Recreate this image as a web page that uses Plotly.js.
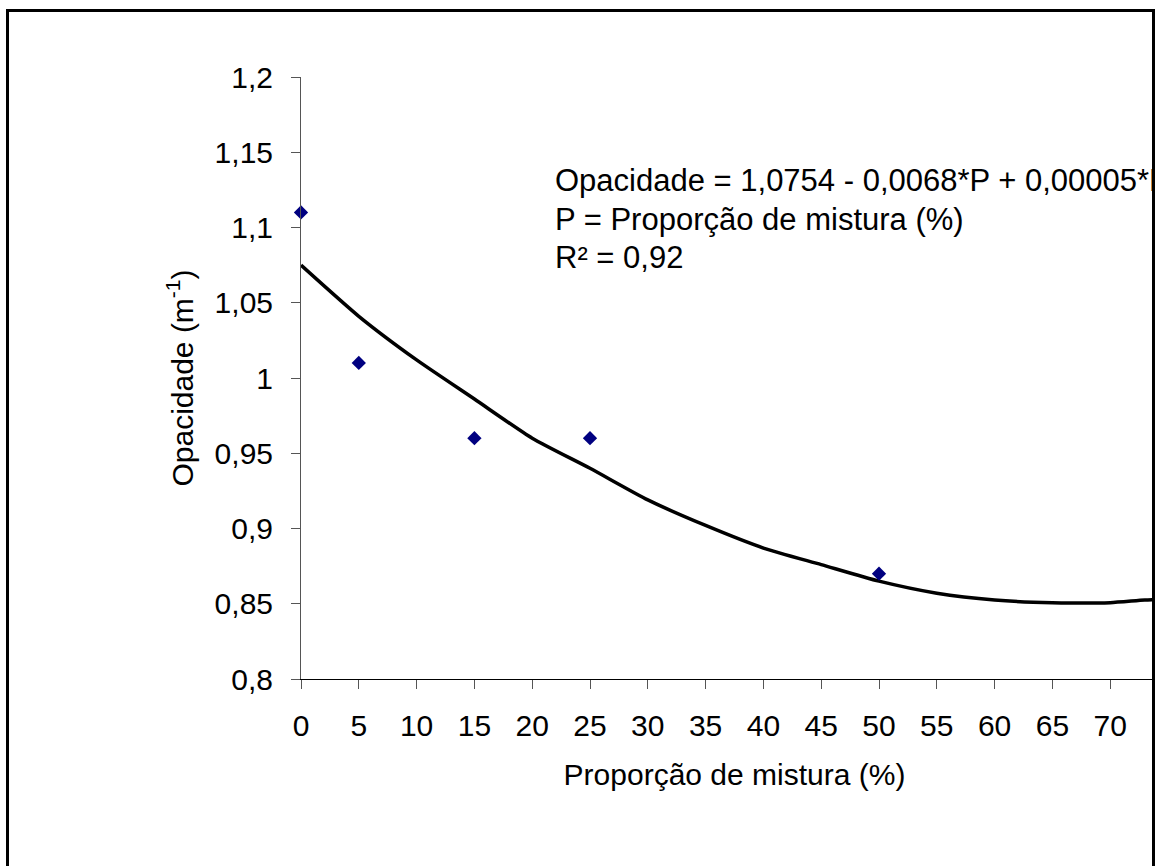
<!DOCTYPE html>
<html>
<head>
<meta charset="utf-8">
<script src="https://cdn.plot.ly/plotly-3.0.1.min.js"></script>
<style>
  html, body { margin: 0; padding: 0; background: #fff; overflow: hidden; }
  #frame { position: absolute; left: 6px; top: 9px; width: 1143px; height: 900px;
           border: 3px solid #000; overflow: hidden; background: #fff; }
  #chart { position: absolute; left: 0; top: 0; width: 1400px; height: 870px; }
</style>
</head>
<body>
<div id="frame"><div id="chart"></div></div>
<script>
// Observed data
const proporcao = [0, 5, 15, 25, 50];
const opacidade = [1.11, 1.01, 0.96, 0.96, 0.87];

// Trend curve
const curveP = [0, 5, 10, 15, 20, 25, 30, 35, 40, 45, 50, 55, 60, 65, 70, 73, 75];
const curveY = [1.075, 1.041, 1.012, 0.986, 0.960, 0.940, 0.919, 0.902, 0.887, 0.876, 0.865, 0.857, 0.8525, 0.8507, 0.8507, 0.8525, 0.853];

// Tick labels
const yTickVals = [0.8, 0.85, 0.9, 0.95, 1.0, 1.05, 1.1, 1.15, 1.2];
const yTickText = ["0,8", "0,85", "0,9", "0,95", "1", "1,05", "1,1", "1,15", "1,2"];
const xTickVals = [0, 5, 10, 15, 20, 25, 30, 35, 40, 45, 50, 55, 60, 65, 70, 75];
const xTickText = ["0", "5", "10", "15", "20", "25", "30", "35", "40", "45", "50", "55", "60", "65", "70", "75"];

// Equation text lines
const eqLines = [
  "Opacidade = 1,0754 - 0,0068*P + 0,00005*P²",
  "P = Proporção de mistura (%)",
  "R² = 0,92"
];
const eqY = [1.131, 1.1055, 1.080];

const FONT = "Liberation Sans, Arial, Helvetica, sans-serif";

const traces = [
  {
    x: curveP, y: curveY, type: "scatter", mode: "lines",
    line: { color: "#000", width: 3.5, shape: "spline", smoothing: 0.6 },
    hoverinfo: "skip", showlegend: false
  },
  {
    x: proporcao, y: opacidade, type: "scatter", mode: "markers",
    marker: { symbol: "diamond", size: 11, color: "#000080" },
    showlegend: false, cliponaxis: false
  }
];

const layout = {
  width: 1400, height: 870,
  margin: { l: 292, r: 241.2, t: 65, b: 203 },
  paper_bgcolor: "#fff", plot_bgcolor: "#fff",
  font: { family: FONT, size: 30, color: "#000" },
  showlegend: false,
  xaxis: {
    range: [0, 75], tickvals: xTickVals, ticktext: xTickText,
    showgrid: false, zeroline: false,
    showline: true, linecolor: "#000", linewidth: 1,
    ticks: "outside", ticklen: 9, tickcolor: "#555", tickwidth: 1,
    tickfont: { family: FONT, size: 30, color: "#000" },
    ticklabelstandoff: 11,
    title: { text: "Proporção de mistura (%)", font: { family: FONT, size: 30, color: "#000" }, standoff: 22 },
    automargin: false, fixedrange: true
  },
  yaxis: {
    range: [0.8, 1.2], tickvals: yTickVals, ticktext: yTickText,
    showgrid: false, zeroline: false,
    showline: true, linecolor: "#555", linewidth: 1,
    ticks: "outside", ticklen: 9, tickcolor: "#555", tickwidth: 1,
    tickfont: { family: FONT, size: 30, color: "#000" },
    ticklabelstandoff: 12,
    title: { text: "Opacidade (m<sup>-1</sup>)", font: { family: FONT, size: 30, color: "#000" }, standoff: 12 },
    automargin: false, fixedrange: true
  },
  annotations: eqLines.map((t, i) => ({
    text: t, x: 21.8, y: eqY[i], xref: "x", yref: "y",
    xanchor: "left", yanchor: "middle", showarrow: false,
    font: { family: FONT, size: 31, color: "#000" }
  }))
};

Plotly.newPlot("chart", traces, layout, { displayModeBar: false, staticPlot: true });
</script>
</body>
</html>
